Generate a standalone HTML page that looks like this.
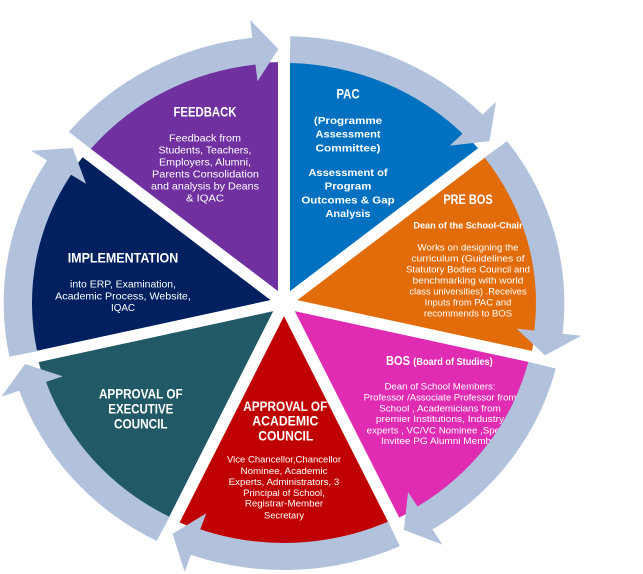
<!DOCTYPE html>
<html><head><meta charset="utf-8">
<style>
html,body{margin:0;padding:0;background:#fff;}
svg{display:block;}
text{font-family:"Liberation Sans",Arial,sans-serif;fill:#fff;}
.b{font-weight:bold;}
</style></head>
<body>
<svg width="643" height="574" viewBox="0 0 643 574" xmlns="http://www.w3.org/2000/svg">
<rect width="643" height="574" fill="#fff"/>
<g transform="translate(284,303) scale(1.05,1)">
  <path d="M0 0 L0 -241 A241 241 0 0 1 188.4 -150.3 Z" fill="#0070C0"/>
  <path d="M0 0 L188.4 -150.3 A241 241 0 0 1 235 53.6 Z" fill="#E36C0A"/>
  <path d="M0 0 L235 53.6 A241 241 0 0 1 104.6 217.1 Z" fill="#E02CB2"/>
  <path d="M0 0 L104.6 217.1 A241 241 0 0 1 -104.6 217.1 Z" fill="#C00000"/>
  <path d="M0 0 L-104.6 217.1 A241 241 0 0 1 -235 53.6 Z" fill="#215967"/>
  <path d="M0 0 L-235 53.6 A241 241 0 0 1 -188.4 -150.3 Z" fill="#002060"/>
  <path d="M0 0 L-188.4 -150.3 A241 241 0 0 1 0 -241 Z" fill="#7030A0"/>
  <g stroke="#fff" stroke-width="11.4" stroke-linecap="butt">
    <line x1="0" y1="0" x2="0" y2="-250"/>
    <line x1="0" y1="0" x2="195.4" y2="-155.9"/>
    <line x1="0" y1="0" x2="243.8" y2="55.6"/>
    <line x1="0" y1="0" x2="108.5" y2="225.2"/>
    <line x1="0" y1="0" x2="-108.5" y2="225.2"/>
    <line x1="0" y1="0" x2="-243.8" y2="55.6"/>
    <line x1="0" y1="0" x2="-195.4" y2="-155.9"/>
  </g>
  <circle cx="0" cy="0" r="7" fill="#fff"/>
</g>

<!-- FEEDBACK -->
<text x="205" y="116.5" text-anchor="middle" font-size="14" class="b" textLength="63" lengthAdjust="spacingAndGlyphs">FEEDBACK</text>
<text x="205" y="141.5" text-anchor="middle" font-size="10.5" textLength="72" lengthAdjust="spacingAndGlyphs">Feedback from</text>
<text x="205" y="153.5" text-anchor="middle" font-size="10.5" textLength="93" lengthAdjust="spacingAndGlyphs">Students, Teachers,</text>
<text x="205" y="165.5" text-anchor="middle" font-size="10.5" textLength="92" lengthAdjust="spacingAndGlyphs">Employers, Alumni,</text>
<text x="205.5" y="177.5" text-anchor="middle" font-size="10.5" textLength="107" lengthAdjust="spacingAndGlyphs">Parents  Consolidation</text>
<text x="205" y="189.5" text-anchor="middle" font-size="10.5" textLength="108" lengthAdjust="spacingAndGlyphs">and  analysis by Deans</text>
<text x="205" y="201.5" text-anchor="middle" font-size="10.5" textLength="38" lengthAdjust="spacingAndGlyphs">&amp;  IQAC</text>

<!-- IMPLEMENTATION -->
<text x="123" y="262.3" text-anchor="middle" font-size="14" class="b" textLength="110.6" lengthAdjust="spacingAndGlyphs">IMPLEMENTATION</text>
<text x="123" y="287.3" text-anchor="middle" font-size="10.5" textLength="106" lengthAdjust="spacingAndGlyphs">into ERP, Examination,</text>
<text x="123" y="299.3" text-anchor="middle" font-size="10.5" textLength="135.7" lengthAdjust="spacingAndGlyphs">Academic Process, Website,</text>
<text x="123" y="311" text-anchor="middle" font-size="10.5" textLength="24" lengthAdjust="spacingAndGlyphs">IQAC</text>

<!-- EXECUTIVE -->
<text x="140.8" y="398.3" text-anchor="middle" font-size="14" class="b" textLength="83.7" lengthAdjust="spacingAndGlyphs">APPROVAL OF</text>
<text x="140.8" y="413.3" text-anchor="middle" font-size="14" class="b" textLength="65" lengthAdjust="spacingAndGlyphs">EXECUTIVE</text>
<text x="140.8" y="428.3" text-anchor="middle" font-size="14" class="b" textLength="53.7" lengthAdjust="spacingAndGlyphs">COUNCIL</text>

<!-- ACADEMIC -->
<text x="285.3" y="411" text-anchor="middle" font-size="14" class="b" textLength="84" lengthAdjust="spacingAndGlyphs">APPROVAL OF</text>
<text x="285.3" y="425.7" text-anchor="middle" font-size="14" class="b" textLength="66" lengthAdjust="spacingAndGlyphs">ACADEMIC</text>
<text x="285.8" y="440.7" text-anchor="middle" font-size="14" class="b" textLength="55" lengthAdjust="spacingAndGlyphs">COUNCIL</text>
<text x="284" y="462.7" text-anchor="middle" font-size="9.5" textLength="114" lengthAdjust="spacingAndGlyphs">Vice Chancellor,Chancellor</text>
<text x="284" y="474" text-anchor="middle" font-size="9.5" textLength="87" lengthAdjust="spacingAndGlyphs">Nominee, Academic</text>
<text x="284" y="485" text-anchor="middle" font-size="9.5" textLength="110.6" lengthAdjust="spacingAndGlyphs">Experts, Administrators, 3</text>
<text x="284" y="496" text-anchor="middle" font-size="9.5" textLength="81.7" lengthAdjust="spacingAndGlyphs">Principal of School,</text>
<text x="284" y="506.7" text-anchor="middle" font-size="9.5" textLength="78.3" lengthAdjust="spacingAndGlyphs">Registrar-Member</text>
<text x="284" y="518.3" text-anchor="middle" font-size="9.5" textLength="40" lengthAdjust="spacingAndGlyphs">Secretary</text>

<!-- PAC -->
<text x="348" y="98.3" text-anchor="middle" font-size="14" class="b" textLength="23.3" lengthAdjust="spacingAndGlyphs">PAC</text>
<text x="348" y="124" text-anchor="middle" font-size="10.5" class="b" textLength="68.3" lengthAdjust="spacingAndGlyphs">(Programme</text>
<text x="348" y="137.7" text-anchor="middle" font-size="10.5" class="b" textLength="65" lengthAdjust="spacingAndGlyphs">Assessment</text>
<text x="348" y="151.7" text-anchor="middle" font-size="10.5" class="b" textLength="65" lengthAdjust="spacingAndGlyphs">Committee)</text>
<text x="348" y="176" text-anchor="middle" font-size="10.5" class="b" textLength="79.3" lengthAdjust="spacingAndGlyphs">Assessment of</text>
<text x="348" y="189.7" text-anchor="middle" font-size="10.5" class="b" textLength="46.7" lengthAdjust="spacingAndGlyphs">Program</text>
<text x="348" y="203.7" text-anchor="middle" font-size="10.5" class="b" textLength="93.3" lengthAdjust="spacingAndGlyphs">Outcomes &amp; Gap</text>
<text x="348" y="217" text-anchor="middle" font-size="10.5" class="b" textLength="45" lengthAdjust="spacingAndGlyphs">Analysis</text>

<!-- PRE BOS -->
<text x="468" y="204" text-anchor="middle" font-size="14" class="b" textLength="49.3" lengthAdjust="spacingAndGlyphs">PRE BOS</text>
<text x="468" y="228.3" text-anchor="middle" font-size="9.5" class="b" textLength="109.3" lengthAdjust="spacingAndGlyphs">Dean of the School-Chair</text>
<text x="468" y="250.7" text-anchor="middle" font-size="9.5" textLength="101" lengthAdjust="spacingAndGlyphs">Works on designing the</text>
<text x="468" y="261.7" text-anchor="middle" font-size="9.5" textLength="113.3" lengthAdjust="spacingAndGlyphs">curriculum (Guidelines of</text>
<text x="468" y="272.7" text-anchor="middle" font-size="9.5" textLength="124" lengthAdjust="spacingAndGlyphs">Statutory Bodies Council and</text>
<text x="468" y="283.7" text-anchor="middle" font-size="9.5" textLength="110.7" lengthAdjust="spacingAndGlyphs">benchmarking with world</text>
<text x="468" y="294.7" text-anchor="middle" font-size="9.5" textLength="117.3" lengthAdjust="spacingAndGlyphs">class universities) .Receives</text>
<text x="468" y="305.7" text-anchor="middle" font-size="9.5" textLength="86.7" lengthAdjust="spacingAndGlyphs">Inputs from PAC and</text>
<text x="468" y="316.7" text-anchor="middle" font-size="9.5" textLength="88.3" lengthAdjust="spacingAndGlyphs">recommends to BOS</text>

<!-- BOS -->
<text x="386" y="365" font-size="12.5" class="b" textLength="24" lengthAdjust="spacingAndGlyphs">BOS</text>
<text x="413.3" y="365" font-size="10" class="b" textLength="79.4" lengthAdjust="spacingAndGlyphs">(Board of Studies)</text>
<text x="440" y="389.3" text-anchor="middle" font-size="9.5" textLength="111" lengthAdjust="spacingAndGlyphs">Dean of School Members:</text>
<text x="440" y="400.3" text-anchor="middle" font-size="9.5" textLength="152.7" lengthAdjust="spacingAndGlyphs">Professor /Associate Professor from</text>
<text x="440" y="411.3" text-anchor="middle" font-size="9.5" textLength="121.7" lengthAdjust="spacingAndGlyphs">School ,  Academicians from</text>
<text x="440" y="422" text-anchor="middle" font-size="9.5" textLength="128.3" lengthAdjust="spacingAndGlyphs">premier Institutions,  Industry</text>
<text x="366.7" y="433.3" font-size="9.5" textLength="133.3" lengthAdjust="spacingAndGlyphs">experts , VC/VC  Nominee ,Spe</text>
<text x="500" y="433.3" font-size="9.5">cial</text>
<text x="440.5" y="444" text-anchor="middle" font-size="9.5" textLength="119" lengthAdjust="spacingAndGlyphs">Invitee  PG Alumni Member</text>

<!-- arrows -->
<g transform="translate(284,303) scale(1.05,1)" fill="#B2C2DD">
  <path d="M6.06 -266.93 A267 267 0 0 1 189.13 -188.47 L201.88 -201.17 L195.71 -161.90 L157.96 -157.41 L170.0 -169.41 A240 240 0 0 0 5.45 -239.94 Z"/>
  <path d="M212.40 -161.80 A267 267 0 0 1 265.23 30.69 L283.11 32.76 L248.54 52.37 L221.52 25.63 L238.41 27.59 A240 240 0 0 0 190.92 -145.44 Z"/>
  <path d="M258.84 65.50 A267 267 0 0 1 141.49 226.43 L151.03 241.69 L114.13 226.92 L118.17 189.12 L127.18 203.53 A240 240 0 0 0 232.67 58.87 Z"/>
  <path d="M110.31 243.17 A267 267 0 0 1 -88.69 251.84 L-94.67 268.82 L-106.14 230.76 L-74.07 210.34 L-79.72 226.37 A240 240 0 0 0 99.15 218.58 Z"/>
  <path d="M-121.22 237.90 A267 267 0 0 1 -252.15 87.81 L-269.15 93.73 L-246.56 61.02 L-210.60 73.34 L-226.65 78.93 A240 240 0 0 0 -108.96 213.84 Z"/>
  <path d="M-261.55 53.69 A267 267 0 0 1 -225.68 -142.67 L-240.90 -152.29 L-201.24 -154.98 L-188.49 -119.16 L-202.86 -128.24 A240 240 0 0 0 -235.10 48.26 Z"/>
  <path d="M-204.83 -171.27 A267 267 0 0 1 -30.22 -265.28 L-32.26 -283.17 L-5.32 -253.94 L-25.24 -221.57 L-27.17 -238.46 A240 240 0 0 0 -184.12 -153.95 Z"/>
</g>
</svg>
</body></html>
